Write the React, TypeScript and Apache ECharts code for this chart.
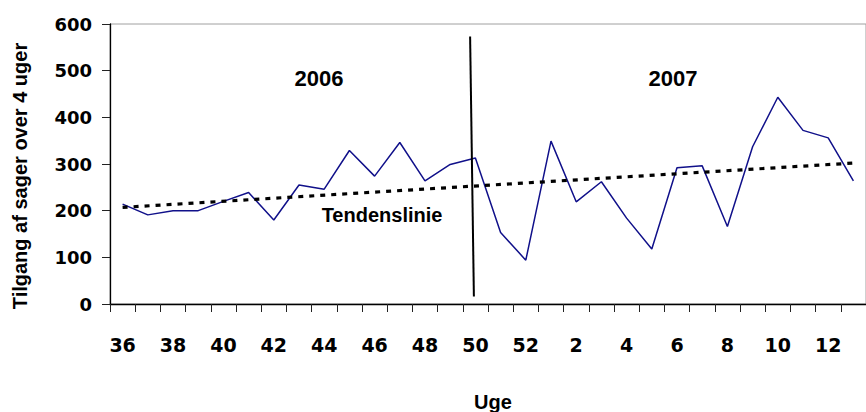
import React, { useEffect, useRef } from "react";
import * as echarts from "echarts";

const weeks = [
  "36", "37", "38", "39", "40", "41", "42", "43", "44", "45", "46", "47", "48", "49", "50", "51", "52",
  "1", "2", "3", "4", "5", "6", "7", "8", "9", "10", "11", "12", "13",
];
const tilgang = [
  214, 191, 200, 200, 220, 239, 180, 255, 246, 329, 274, 346, 264, 299, 313, 153, 94,
  349, 219, 262, 184, 118, 292, 296, 166, 337, 443, 372, 356, 264,
];
// trend line end points (x on a 0..30 category-width scale)
const trendPoints = [
  [0.5, 207],
  [29.5, 302],
];
// year divider line
const dividerPoints = [
  [14.29, 573],
  [14.44, 16],
];
const yTicks = { min: 0, max: 600, interval: 100 };

const ARIAL = "'Liberation Sans', Arial, sans-serif";
const DEJAVU = "'DejaVu Sans', sans-serif";

export default function App() {
  const ref = useRef<HTMLDivElement>(null);
  useEffect(() => {
    if (!ref.current) return;
    const chart = echarts.init(ref.current, undefined, { renderer: "svg" });
    chart.setOption({
      animation: false,
      backgroundColor: "#ffffff",
      grid: {
        left: 110,
        top: 24,
        width: 765,
        height: 280,
        show: true,
        borderColor: "#a0a0a0",
        borderWidth: 1,
        backgroundColor: "transparent",
      },
      xAxis: [
        {
          type: "category",
          data: weeks,
          boundaryGap: true,
          axisLine: { lineStyle: { color: "#000", width: 1.3 } },
          axisTick: { show: true, interval: 0, length: 8, lineStyle: { color: "#222" } },
          axisLabel: {
            interval: 1,
            margin: 31,
            fontSize: 19,
            fontWeight: "bold",
            fontFamily: DEJAVU,
            color: "#000",
          },
          splitLine: { show: false },
        },
        {
          type: "value",
          min: 0,
          max: 30,
          show: false,
          splitLine: { show: false },
        },
      ],
      yAxis: {
        type: "value",
        min: yTicks.min,
        max: yTicks.max,
        interval: yTicks.interval,
        axisLine: { show: true, lineStyle: { color: "#000", width: 1.3 } },
        axisTick: { show: true, length: 8, lineStyle: { color: "#222" } },
        axisLabel: {
          margin: 18,
          fontSize: 18,
          fontWeight: "bold",
          fontFamily: DEJAVU,
          color: "#000",
        },
        splitLine: { show: false },
      },
      series: [
        {
          type: "line",
          data: tilgang,
          xAxisIndex: 0,
          symbol: "none",
          lineStyle: { color: "#10108a", width: 1.5 },
          z: 2,
        },
        {
          type: "line",
          data: trendPoints,
          xAxisIndex: 1,
          symbol: "none",
          lineStyle: { color: "#000", width: 3.2, type: [5, 6] },
          z: 3,
        },
        {
          type: "line",
          data: dividerPoints,
          xAxisIndex: 1,
          symbol: "none",
          lineStyle: { color: "#000", width: 2 },
          z: 4,
        },
      ],
      graphic: [
        {
          type: "text",
          x: 319,
          y: 78,
          style: {
            text: "2006",
            font: `bold 22px ${ARIAL}`,
            fill: "#000",
            textAlign: "center",
            textVerticalAlign: "middle",
          },
        },
        {
          type: "text",
          x: 673,
          y: 78,
          style: {
            text: "2007",
            font: `bold 22px ${ARIAL}`,
            fill: "#000",
            textAlign: "center",
            textVerticalAlign: "middle",
          },
        },
        {
          type: "text",
          x: 382,
          y: 215,
          style: {
            text: "Tendenslinie",
            font: `bold 20px ${ARIAL}`,
            fill: "#000",
            textAlign: "center",
            textVerticalAlign: "middle",
          },
        },
        {
          type: "text",
          x: 493,
          y: 402,
          style: {
            text: "Uge",
            font: `bold 20px ${ARIAL}`,
            fill: "#000",
            textAlign: "center",
            textVerticalAlign: "middle",
          },
        },
        {
          type: "text",
          x: 20,
          y: 176,
          rotation: Math.PI / 2,
          style: {
            text: "Tilgang af sager over 4 uger",
            font: `bold 20px ${ARIAL}`,
            fill: "#000",
            textAlign: "center",
            textVerticalAlign: "middle",
          },
        },
      ],
    });
    return () => chart.dispose();
  }, []);
  return (
    <div
      ref={ref}
      style={{ position: "fixed", left: 0, top: 0, width: 866, height: 412, background: "#fff" }}
    />
  );
}
